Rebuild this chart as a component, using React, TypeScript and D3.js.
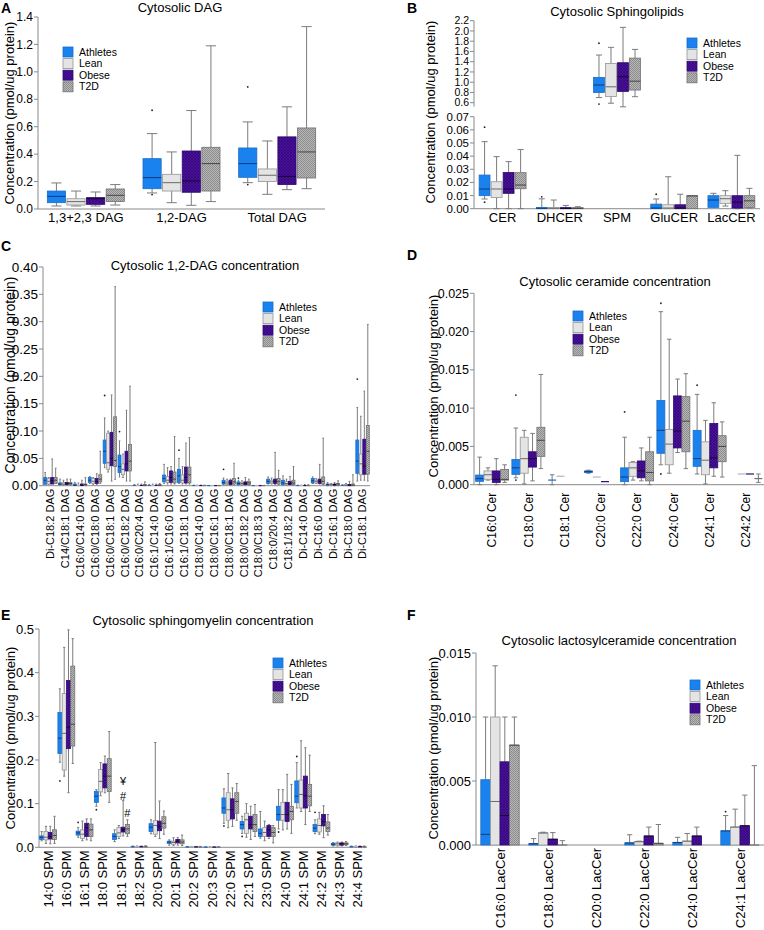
import React from "react";
import * as d3 from "d3";

// ---------- shared ----------
const GROUPS = ["Athletes", "Lean", "Obese", "T2D"];
const FILLS = ["#1a82ee", "#e4e4e4", "url(#pObese)", "url(#pT2D)"];
const STROKES = ["#1b6cc8", "#949494", "#2e0a6e", "#707070"];
const MEDIANS = ["#0b3c7a", "#6a6a6a", "#14082e", "#454545"];
const WHISK = "#7c7c7c";
const FONT = "'Liberation Sans', Arial, Helvetica, sans-serif";

// ---------- Panel A ----------
const A_cats = ["1,3+2,3 DAG", "1,2-DAG", "Total DAG"];
const A_ticks = [0, 0.2, 0.4, 0.6, 0.8, 1.0, 1.2, 1.4];
const A_athletes = [[0.022, 0.046, 0.092, 0.131, 0.19], [0.117, 0.148, 0.229, 0.367, 0.55], [0.192, 0.231, 0.331, 0.445, 0.635]];
const A_lean = [[0.022, 0.029, 0.054, 0.075, 0.131], [0.046, 0.131, 0.192, 0.253, 0.416], [0.107, 0.2, 0.246, 0.292, 0.496]];
const A_obese = [[0.022, 0.034, 0.075, 0.083, 0.124], [0.027, 0.122, 0.204, 0.423, 0.718], [0.141, 0.178, 0.238, 0.526, 0.745]];
const A_t2d = [[0.029, 0.054, 0.1, 0.146, 0.178], [0.054, 0.131, 0.331, 0.45, 1.19], [0.148, 0.226, 0.416, 0.591, 1.33]];
const A_outliers = [[1, 0, 0.72], [1, 0, 0.105], [2, 0, 0.89], [2, 0, 0.178]];

// ---------- Panel B ----------
const B_cats = ["CER", "DHCER", "SPM", "GluCER", "LacCER"];
const B_ticksUpper = [0.6, 0.8, 1.0, 1.2, 1.4, 1.6, 1.8, 2.0, 2.2];
const B_ticksLower = [0, 0.01, 0.02, 0.03, 0.04, 0.05, 0.06, 0.07];
const B_athletes = [[0.0074, 0.0099, 0.015, 0.0256, 0.051], [0, 0, 0.0003, 0.001, 0.0075], [0.7, 0.8, 0.945, 1.094, 1.53], [0, 0, 0.0005, 0.0035, 0.0074], [0.001, 0.001, 0.0066, 0.0099, 0.0117]];
const B_lean = [[0, 0.0086, 0.015, 0.0205, 0.0396], [0, 0, 0.0003, 0.001, 0.0066], [0.59, 0.72, 0.91, 1.367, 1.68], [0, 0, 0.0005, 0.003, 0.0243], [0.002, 0.004, 0.0076, 0.0099, 0.0137]];
const B_obese = [[0, 0.0117, 0.015, 0.0276, 0.0358], [0, 0, 0.0002, 0.0008, 0.0025], [0.52, 0.82, 1.107, 1.38, 2.07], [0, 0, 0.0005, 0.003, 0.011], [0, 0.0005, 0.005, 0.0099, 0.0406]];
const B_t2d = [[0, 0.0152, 0.018, 0.0274, 0.045], [0, 0, 0.0002, 0.0008, 0.0015], [0.717, 0.847, 1.02, 1.47, 1.64], [0, 0, 0.0097, 0.0099, 0.0099], [0.0005, 0.001, 0.006, 0.0099, 0.0155]];
const B_outliers = [[0, 0, 0.062], [0, 0, 0.005], [1, 0, 0.009], [2, 0, 1.76], [2, 0, 0.574], [3, 0, 0.011]];

// ---------- Panel C ----------
const C_cats = ["Di-C18:2 DAG", "C14/C18:1 DAG", "C16:0/C14:0 DAG", "C16:0/C18:0 DAG", "C16:0/C18:1 DAG", "C16:0/C18:2 DAG", "C16:0/C20:4 DAG", "C16:1/C14:0 DAG", "C16:1/C16:0 DAG", "C16:1/C18:1 DAG", "C18:0/C14:0 DAG", "C18:0/C16:1 DAG", "C18:0/C18:1 DAG", "C18:0/C18:2 DAG", "C18:0/C18:3 DAG", "C18:0/20:4 DAG", "C18:1/18:2 DAG", "Di-C14:0 DAG", "Di-C16:0 DAG", "Di-C16:1 DAG", "Di-C18:0 DAG", "Di-C18:1 DAG"];
const C_ticks = [0, 0.05, 0.1, 0.15, 0.2, 0.25, 0.3, 0.35, 0.4];
const C_athletes = [
  [0.0025, 0.0025, 0.01, 0.015, 0.024], [0.001, 0.002, 0.003, 0.005, 0.012], [0, 0.0005, 0.001, 0.003, 0.006], [0.004, 0.006, 0.01, 0.015, 0.017],
  [0.033, 0.041, 0.063, 0.0835, 0.124], [0.016, 0.024, 0.035, 0.056, 0.082], [0, 0, 0.0005, 0.001, 0.002], [0, 0, 0.0005, 0.001, 0.002],
  [0.004, 0.007, 0.013, 0.0195, 0.039], [0.004, 0.006, 0.018, 0.03, 0.05], [0, 0, 0.0003, 0.0008, 0.001], [0, 0, 0.0002, 0.0004, 0.0005],
  [0.002, 0.003, 0.006, 0.01, 0.014], [0.001, 0.002, 0.004, 0.007, 0.01], [0, 0, 0.0002, 0.0003, 0.0005], [0.003, 0.004, 0.008, 0.012, 0.016],
  [0.001, 0.002, 0.005, 0.01, 0.018], [0, 0, 0.0003, 0.0006, 0.001], [0.004, 0.005, 0.009, 0.013, 0.016], [0, 0.001, 0.002, 0.003, 0.006],
  [0, 0, 0.0005, 0.001, 0.002], [0.0085, 0.0226, 0.045, 0.0835, 0.143]];
const C_lean = [
  [0.002, 0.003, 0.008, 0.013, 0.015], [0.001, 0.002, 0.003, 0.006, 0.01], [0, 0.0005, 0.001, 0.002, 0.005], [0.002, 0.004, 0.008, 0.013, 0.015],
  [0.025, 0.03, 0.042, 0.096, 0.1], [0.015, 0.02, 0.03, 0.04, 0.058], [0, 0, 0.0005, 0.001, 0.003], [0, 0, 0.0005, 0.001, 0.003],
  [0.003, 0.006, 0.01, 0.017, 0.033], [0.003, 0.005, 0.01, 0.02, 0.035], [0, 0, 0.0003, 0.0008, 0.001], [0, 0, 0.0002, 0.0003, 0.0005],
  [0.002, 0.003, 0.005, 0.008, 0.012], [0.001, 0.002, 0.004, 0.006, 0.009], [0, 0, 0.0002, 0.0003, 0.0005], [0.003, 0.004, 0.007, 0.01, 0.014],
  [0.001, 0.002, 0.004, 0.008, 0.012], [0, 0, 0.0003, 0.0006, 0.001], [0.004, 0.005, 0.008, 0.01, 0.013], [0, 0.001, 0.002, 0.003, 0.004],
  [0, 0, 0.0008, 0.002, 0.004], [0.01, 0.02, 0.04, 0.058, 0.127]];
const C_obese = [
  [0.003, 0.003, 0.009, 0.015, 0.049], [0.001, 0.002, 0.004, 0.006, 0.012], [0, 0.0005, 0.001, 0.003, 0.01], [0.002, 0.004, 0.008, 0.013, 0.022],
  [0.0085, 0.0366, 0.05, 0.0976, 0.166], [0.0085, 0.027, 0.04, 0.063, 0.138], [0, 0, 0.0005, 0.001, 0.003], [0, 0, 0.0005, 0.001, 0.003],
  [0.003, 0.006, 0.015, 0.027, 0.035], [0.003, 0.005, 0.015, 0.034, 0.078], [0, 0, 0.0003, 0.0006, 0.001], [0, 0, 0.0002, 0.0003, 0.0005],
  [0.001, 0.002, 0.005, 0.01, 0.012], [0.001, 0.002, 0.004, 0.007, 0.015], [0, 0, 0.0002, 0.0003, 0.0005], [0.002, 0.004, 0.008, 0.012, 0.061],
  [0.001, 0.002, 0.004, 0.008, 0.017], [0, 0, 0.0003, 0.0006, 0.002], [0.003, 0.004, 0.008, 0.012, 0.039], [0, 0.001, 0.002, 0.003, 0.006],
  [0, 0, 0.001, 0.002, 0.008], [0.01, 0.021, 0.036, 0.085, 0.173]];
const C_t2d = [
  [0.004, 0.004, 0.01, 0.015, 0.032], [0.001, 0.002, 0.004, 0.006, 0.012], [0, 0.001, 0.002, 0.003, 0.015], [0.004, 0.007, 0.012, 0.02, 0.063],
  [0.0116, 0.035, 0.046, 0.126, 0.364], [0.0085, 0.027, 0.045, 0.0756, 0.182], [0, 0, 0.001, 0.002, 0.007], [0, 0, 0.001, 0.002, 0.004],
  [0.003, 0.005, 0.012, 0.025, 0.09], [0.003, 0.005, 0.02, 0.034, 0.088], [0, 0, 0.0003, 0.0006, 0.001], [0, 0, 0.0002, 0.0003, 0.0005],
  [0.002, 0.003, 0.007, 0.013, 0.041], [0.001, 0.002, 0.005, 0.008, 0.012], [0, 0, 0.0002, 0.0003, 0.0005], [0.002, 0.003, 0.008, 0.013, 0.028],
  [0.001, 0.002, 0.005, 0.01, 0.035], [0, 0, 0.0003, 0.0006, 0.002], [0.002, 0.003, 0.008, 0.016, 0.087], [0, 0.001, 0.003, 0.004, 0.009],
  [0, 0, 0.001, 0.003, 0.02], [0.0085, 0.021, 0.063, 0.11, 0.295]];
const C_outliers = [[4, 0, 0.165], [5, 0, 0.099], [9, 0, 0.065], [12, 0, 0.03], [13, 0, 0.014], [21, 0, 0.195]];

// ---------- Panel D ----------
const D_cats = ["C16:0 Cer", "C18:0 Cer", "C18:1 Cer", "C20:0 Cer", "C22:0 Cer", "C24:0 Cer", "C24:1 Cer", "C24:2 Cer"];
const D_ticks = [0, 0.005, 0.01, 0.015, 0.02, 0.025];
const D_athletes = [
  [0, 0.00044, 0.0008, 0.00126, 0.0036], [0.0009, 0.00135, 0.0022, 0.0033, 0.0074], [0, 0.0006, 0.0006, 0.0006, 0.0013], [0.0015, 0.0016, 0.0017, 0.0018, 0.0019],
  [0, 0.0004, 0.001, 0.0022, 0.0062], [0.0026, 0.0041, 0.0071, 0.011, 0.0226], [0.0014, 0.0024, 0.0034, 0.0071, 0.0118], null];
const D_lean = [
  [0.0006, 0.0007, 0.0013, 0.0018, 0.0022], [0.0001, 0.0015, 0.0034, 0.0062, 0.0071], [0.0011, 0.0011, 0.0011, 0.0011, 0.0011], [0.001, 0.001, 0.001, 0.001, 0.001],
  [0.0006, 0.0011, 0.0022, 0.0029, 0.003], [0.0015, 0.0026, 0.0053, 0.0072, 0.019], [0.0001, 0.0013, 0.0032, 0.0056, 0.0084], [0.0014, 0.0014, 0.0014, 0.0014, 0.0014]];
const D_obese = [
  [0, 0.0003, 0.0007, 0.0018, 0.0034], [0.0005, 0.0023, 0.0034, 0.0043, 0.0067], null, [0.0004, 0.0004, 0.0004, 0.0004, 0.0004],
  [0.0005, 0.0009, 0.0018, 0.0031, 0.0048], [0.0042, 0.0048, 0.007, 0.0116, 0.0138], [0.0011, 0.0022, 0.0035, 0.008, 0.0107], [0.0014, 0.0014, 0.0014, 0.0014, 0.0014]];
const D_t2d = [
  [0.0003, 0.0006, 0.0007, 0.002, 0.0026], [0.0021, 0.0037, 0.0058, 0.0075, 0.0144], null, null,
  [0, 0.0005, 0.0016, 0.0043, 0.0062], [0.0021, 0.0043, 0.0083, 0.0115, 0.0145], [0.001, 0.003, 0.005, 0.0064, 0.0082], [0.0003, 0.0008, 0.0008, 0.0008, 0.0014]];
const D_outliers = [[1, 0, 0.0117], [1, 0, 0.0006], [4, 0, 0.0095], [5, 0, 0.0237], [5, 0, 0.0014], [6, 0, 0.013]];

// ---------- Panel E ----------
const E_cats = ["14:0 SPM", "16:0 SPM", "16:1 SPM", "18:0 SPM", "18:1 SPM", "18:2 SPM", "20:0 SPM", "20:1 SPM", "20:2 SPM", "20:3 SPM", "22:0 SPM", "22:1 SPM", "23:0 SPM", "24:0 SPM", "24:1 SPM", "24:2 SPM", "24:3 SPM", "24:4 SPM"];
const E_ticks = [0, 0.1, 0.2, 0.3, 0.4, 0.5];
const E_athletes = [
  [0.015, 0.018, 0.023, 0.026, 0.036], [0.195, 0.215, 0.25, 0.309, 0.363], [0.023, 0.028, 0.033, 0.037, 0.045], [0.094, 0.103, 0.117, 0.128, 0.132],
  [0.013, 0.018, 0.025, 0.031, 0.04], [0.0005, 0.001, 0.0015, 0.002, 0.003], [0.031, 0.036, 0.046, 0.054, 0.063], [0.005, 0.009, 0.012, 0.014, 0.017],
  [0, 0.0005, 0.001, 0.0015, 0.002], [0, 0.0002, 0.0004, 0.0006, 0.001], [0.055, 0.078, 0.09, 0.113, 0.134], [0.032, 0.042, 0.052, 0.059, 0.071],
  [0.021, 0.025, 0.032, 0.042, 0.082], [0.042, 0.062, 0.075, 0.094, 0.132], [0.09, 0.102, 0.117, 0.152, 0.194], [0.031, 0.036, 0.044, 0.052, 0.063],
  [0.003, 0.005, 0.007, 0.009, 0.011], [0, 0.001, 0.0015, 0.002, 0.003]];
const E_lean = [
  [0.009, 0.017, 0.023, 0.036, 0.048], [0.163, 0.177, 0.261, 0.352, 0.458], [0.015, 0.02, 0.03, 0.04, 0.06], [0.118, 0.127, 0.151, 0.178, 0.194],
  [0.02, 0.025, 0.033, 0.045, 0.05], [0.0005, 0.001, 0.0015, 0.002, 0.003], [0.025, 0.03, 0.05, 0.061, 0.24], [0.004, 0.007, 0.011, 0.014, 0.022],
  [0, 0.0005, 0.001, 0.0015, 0.002], [0, 0.0002, 0.0004, 0.0006, 0.001], [0.045, 0.062, 0.086, 0.125, 0.169], [0.023, 0.032, 0.063, 0.078, 0.1],
  [0.015, 0.025, 0.034, 0.045, 0.06], [0.04, 0.062, 0.075, 0.103, 0.132], [0.082, 0.09, 0.121, 0.154, 0.244], [0.03, 0.035, 0.05, 0.065, 0.08],
  [0.003, 0.005, 0.008, 0.01, 0.012], [0, 0.001, 0.0015, 0.002, 0.003]];
const E_obese = [
  [0.008, 0.019, 0.025, 0.034, 0.048], [0.125, 0.226, 0.275, 0.382, 0.498], [0.017, 0.025, 0.045, 0.055, 0.065], [0.125, 0.136, 0.163, 0.191, 0.209],
  [0.026, 0.035, 0.04, 0.046, 0.107], [0.0005, 0.001, 0.0015, 0.002, 0.003], [0.02, 0.038, 0.048, 0.06, 0.106], [0.005, 0.01, 0.014, 0.018, 0.022],
  [0, 0.0005, 0.001, 0.0015, 0.002], [0, 0.0002, 0.0004, 0.0006, 0.001], [0.048, 0.065, 0.086, 0.111, 0.136], [0.018, 0.042, 0.052, 0.071, 0.094],
  [0.02, 0.025, 0.04, 0.05, 0.052], [0.042, 0.059, 0.075, 0.103, 0.167], [0.052, 0.09, 0.118, 0.163, 0.228], [0.022, 0.049, 0.059, 0.075, 0.095],
  [0.003, 0.005, 0.008, 0.01, 0.012], [0, 0.001, 0.0015, 0.002, 0.003]];
const E_t2d = [
  [0.009, 0.018, 0.027, 0.04, 0.071], [0.192, 0.232, 0.282, 0.415, 0.478], [0.015, 0.025, 0.04, 0.053, 0.065], [0.103, 0.128, 0.163, 0.203, 0.265],
  [0.025, 0.031, 0.042, 0.052, 0.063], [0.0005, 0.001, 0.0015, 0.002, 0.004], [0.03, 0.044, 0.055, 0.07, 0.083], [0.004, 0.008, 0.012, 0.017, 0.028],
  [0, 0.0005, 0.001, 0.0015, 0.002], [0, 0.0002, 0.0004, 0.0006, 0.001], [0.062, 0.078, 0.105, 0.125, 0.146], [0.025, 0.036, 0.052, 0.075, 0.098],
  [0.01, 0.025, 0.034, 0.045, 0.05], [0.032, 0.063, 0.082, 0.094, 0.144], [0.082, 0.095, 0.117, 0.144, 0.211], [0.028, 0.036, 0.044, 0.058, 0.075],
  [0.004, 0.006, 0.008, 0.01, 0.013], [0, 0.001, 0.0015, 0.002, 0.003]];
const E_outliers = [[1, 0, 0.152], [2, 0, 0.057], [3, 0, 0.086], [10, 0, 0.049], [11, 0, 0.025], [13, 0, 0.035], [14, 0, 0.208], [15, 0, 0.08]];
const E_annotations: [number, number, number, string][] = [[4, 2, 0.142, "¥"], [4, 2, 0.109, "#"], [4, 3, 0.069, "#"]];

// ---------- Panel F ----------
const F_cats = ["C16:0 LacCer", "C18:0 LacCer", "C20:0 LacCer", "C22:0 LacCer", "C24:0 LacCer", "C24:1 LacCer"];
const F_ticks = [0, 0.005, 0.01, 0.015];
const F_athletes = [[0, 0, 0.00083, 0.0051, 0.01], [0, 0, 0.0001, 0.0001, 0.0005], null, [0, 0, 0.00016, 0.00016, 0.0008], [0, 0, 0.0002, 0.0002, 0.0006], [0, 0, 0.0011, 0.0011, 0.0023]];
const F_lean = [[0, 0, 0.0034, 0.01, 0.014], [0, 0, 0.00094, 0.00094, 0.001], null, [0, 0, 0.00026, 0.00026, 0.0003], [0, 0, 0.0003, 0.0003, 0.0009], [0, 0, 0.0014, 0.0014, 0.0028]];
const F_obese = [[0, 0, 0.0023, 0.0065, 0.01], [0, 0, 0.00045, 0.00045, 0.00097], null, [0, 0, 0.0007, 0.0007, 0.0014], [0, 0, 0.0007, 0.0007, 0.0014], [0, 0, 0.0015, 0.0015, 0.0039]];
const F_t2d = [[0, 0, 0.0078, 0.0078, 0.01], [0, 0, 0, 0, 0.00034], null, [0, 0, 0.00013, 0.00013, 0.0016], null, [0, 0, 0, 0, 0.0062]];
const F_outliers = [[5, 0, 0.0026]];

type AxisSeg = { scale: d3.ScaleLinear<number, number>; ticks: number[]; fmt: string; size: number };

type PanelProps = {
  cats: string[];
  series: (number[] | null)[][];
  outliers: number[][];
  annotations?: [number, number, number, string][];
  xRange: [number, number];
  y: (v: number) => number;
  axes: AxisSeg[];
  bwFrac: number;
  spFrac: number;
  rotate: boolean;
  labelSize: number;
  labelGap: number;
  title: string;
  titleX: number;
  titleY: number;
  letter: string;
  letterX: number;
  letterY: number;
  yLabelX: number;
  yLabelY: number;
  yLabelSize: number;
  legendX: number;
  legendY: number;
};

function Panel(p: PanelProps) {
  const x = d3.scaleBand().domain(p.cats).range(p.xRange);
  const step = x.step();
  const bw = step * p.bwFrac;
  const sp = step * p.spFrac;
  const axisX = p.xRange[0];
  const y0 = p.y(0);
  const cx = (ci: number, gi: number) => (x(p.cats[ci]) as number) + step / 2 + (gi - 1.5) * sp;
  const cap = bw * 0.28;

  return (
    <g fontFamily={FONT}>
      <text x={p.letterX} y={p.letterY} fontSize={14} fontWeight="bold">{p.letter}</text>
      <text x={p.titleX} y={p.titleY} fontSize={13} textAnchor="middle">{p.title}</text>
      <text transform={`translate(${p.yLabelX},${p.yLabelY}) rotate(-90)`} fontSize={p.yLabelSize} textAnchor="middle" dy="0.35em">
        Concentration (pmol/ug protein)
      </text>
      {p.axes.map((a, ai) => {
        const r = a.scale.range();
        const f = d3.format(a.fmt);
        return (
          <g key={ai}>
            <line x1={axisX} x2={axisX} y1={r[0] + (ai === 0 && p.axes.length > 1 ? 4 : 0)} y2={r[1]} stroke="#8a8a8a" strokeWidth={1} />
            {a.ticks.map((t) => (
              <g key={t}>
                <line x1={axisX - 4} x2={axisX} y1={a.scale(t)} y2={a.scale(t)} stroke="#8a8a8a" />
                <text x={axisX - 5} y={a.scale(t)} dy="0.35em" fontSize={a.size} textAnchor="end">{f(t)}</text>
              </g>
            ))}
          </g>
        );
      })}
      <line x1={axisX} x2={p.xRange[1]} y1={y0} y2={y0} stroke="#8a8a8a" strokeWidth={1} />
      {p.cats.map((c) => {
        const xc = (x(c) as number) + step / 2;
        return p.rotate ? (
          <text key={c} transform={`translate(${xc},${y0 + p.labelGap}) rotate(-90)`} fontSize={p.labelSize} textAnchor="end" dy="0.35em">{c}</text>
        ) : (
          <text key={c} x={xc} y={y0 + p.labelGap} fontSize={p.labelSize} textAnchor="middle" dy="0.8em">{c}</text>
        );
      })}
      {p.cats.map((c, ci) =>
        p.series.map((s, gi) => {
          const b = s[ci];
          if (!b) return null;
          const [mn, q1, md, q3, mx] = b;
          const xc = cx(ci, gi);
          const yq1 = p.y(q1), yq3 = p.y(q3);
          const h = yq1 - yq3;
          return (
            <g key={`${ci}-${gi}`}>
              {mx > q3 && <line x1={xc} x2={xc} y1={p.y(mx)} y2={yq3} stroke={WHISK} strokeWidth={1} />}
              {mx > q3 && <line x1={xc - cap} x2={xc + cap} y1={p.y(mx)} y2={p.y(mx)} stroke={WHISK} strokeWidth={1} />}
              {mn < q1 && <line x1={xc} x2={xc} y1={yq1} y2={p.y(mn)} stroke={WHISK} strokeWidth={1} />}
              {mn < q1 && <line x1={xc - cap} x2={xc + cap} y1={p.y(mn)} y2={p.y(mn)} stroke={WHISK} strokeWidth={1} />}
              {h >= 1 ? (
                <rect x={xc - bw / 2} y={yq3} width={bw} height={h} fill={FILLS[gi]} stroke={STROKES[gi]} strokeWidth={0.8} />
              ) : (
                <line x1={xc - bw / 2} x2={xc + bw / 2} y1={p.y(md)} y2={p.y(md)} stroke={gi === 1 ? "#b5b5b5" : STROKES[gi]} strokeWidth={1.2} />
              )}
              {h >= 1 && <line x1={xc - bw / 2} x2={xc + bw / 2} y1={p.y(md)} y2={p.y(md)} stroke={MEDIANS[gi]} strokeWidth={1} />}
            </g>
          );
        })
      )}
      {p.outliers.map((o, i) => (
        <circle key={i} cx={cx(o[0], o[1])} cy={p.y(o[2])} r={0.9} fill="#222" />
      ))}
      {(p.annotations || []).map((a, i) => (
        <text key={i} x={cx(a[0], a[1])} y={p.y(a[2])} fontSize={11} textAnchor="middle">{a[3]}</text>
      ))}
      {GROUPS.map((g, gi) => {
        const ly = p.legendY + gi * 11.6;
        return (
          <g key={g}>
            <rect x={p.legendX} y={ly - 5} width={10} height={10} fill={FILLS[gi]} stroke={STROKES[gi]} strokeWidth={0.8} />
            <text x={p.legendX + 16} y={ly} dy="0.35em" fontSize={10.5}>{g}</text>
          </g>
        );
      })}
    </g>
  );
}

export default function App() {
  const yA = d3.scaleLinear().domain([0, 1.4]).range([209, 17]);
  const yBU = d3.scaleLinear().domain([0.6, 2.2]).range([102.7, 20.7]);
  const yBL = d3.scaleLinear().domain([0, 0.07]).range([208.7, 116.7]);
  const yB = (v: number) => (v >= 0.3 ? yBU(v) : yBL(v));
  const yC = d3.scaleLinear().domain([0, 0.4]).range([485.7, 267]);
  const yD = d3.scaleLinear().domain([0, 0.025]).range([484.7, 293.3]);
  const yE = d3.scaleLinear().domain([0, 0.5]).range([847.3, 629]);
  const yF = d3.scaleLinear().domain([0, 0.015]).range([845, 653]);

  return (
    <svg width={764} height={930} style={{ position: "absolute", left: 0, top: 0, background: "#fff" }}>
      <defs>
        <pattern id="pObese" width="3" height="3" patternUnits="userSpaceOnUse">
          <rect width="3" height="3" fill="#4c10a2" />
          <path d="M0,0 L3,3 M3,0 L0,3" stroke="#2c0766" strokeWidth="0.6" />
        </pattern>
        <pattern id="pT2D" width="2" height="2" patternUnits="userSpaceOnUse">
          <rect width="2" height="2" fill="#b8b8b8" />
          <rect width="1" height="1" fill="#8c8c8c" />
          <rect x="1" y="1" width="1" height="1" fill="#8c8c8c" />
        </pattern>
      </defs>
      <rect width={764} height={930} fill="#fff" />
      <Panel cats={A_cats} series={[A_athletes, A_lean, A_obese, A_t2d]} outliers={A_outliers}
        xRange={[38, 325]} y={yA} axes={[{ scale: yA, ticks: A_ticks, fmt: ".1f", size: 12 }]}
        bwFrac={0.19} spFrac={0.205} rotate={false} labelSize={13} labelGap={3}
        title="Cytosolic DAG" titleX={180} titleY={12} letter="A" letterX={1} letterY={13}
        yLabelX={9} yLabelY={113} yLabelSize={13} legendX={63} legendY={52} />
      <Panel cats={B_cats} series={[B_athletes, B_lean, B_obese, B_t2d]} outliers={B_outliers}
        xRange={[474, 760]} y={yB}
        axes={[{ scale: yBU, ticks: B_ticksUpper, fmt: ".1f", size: 10.5 }, { scale: yBL, ticks: B_ticksLower, fmt: ".2f", size: 11.5 }]}
        bwFrac={0.19} spFrac={0.21} rotate={false} labelSize={13} labelGap={3}
        title="Cytosolic Sphingolipids" titleX={617} titleY={16} letter="B" letterX={407} letterY={13}
        yLabelX={430} yLabelY={112} yLabelSize={13} legendX={687} legendY={43} />
      <Panel cats={C_cats} series={[C_athletes, C_lean, C_obese, C_t2d]} outliers={C_outliers}
        xRange={[43, 370]} y={yC} axes={[{ scale: yC, ticks: C_ticks, fmt: ".2f", size: 13.5 }]}
        bwFrac={0.2} spFrac={0.235} rotate={true} labelSize={11} labelGap={3}
        title="Cytosolic 1,2-DAG concentration" titleX={205} titleY={270} letter="C" letterX={1} letterY={251}
        yLabelX={10} yLabelY={375} yLabelSize={14} legendX={263} legendY={307} />
      <Panel cats={D_cats} series={[D_athletes, D_lean, D_obese, D_t2d]} outliers={D_outliers}
        xRange={[474, 764]} y={yD} axes={[{ scale: yD, ticks: D_ticks, fmt: ".3f", size: 12.5 }]}
        bwFrac={0.22} spFrac={0.23} rotate={true} labelSize={12} labelGap={8}
        title="Cytosolic ceramide concentration" titleX={615} titleY={286} letter="D" letterX={407} letterY={260}
        yLabelX={433} yLabelY={386} yLabelSize={13} legendX={573} legendY={316} />
      <Panel cats={E_cats} series={[E_athletes, E_lean, E_obese, E_t2d]} outliers={E_outliers} annotations={E_annotations}
        xRange={[39, 367]} y={yE} axes={[{ scale: yE, ticks: E_ticks, fmt: ".1f", size: 13 }]}
        bwFrac={0.22} spFrac={0.235} rotate={true} labelSize={13} labelGap={3}
        title="Cytosolic sphingomyelin concentration" titleX={203} titleY={625} letter="E" letterX={1} letterY={620}
        yLabelX={10} yLabelY={738} yLabelSize={13} legendX={273} legendY={663} />
      <Panel cats={F_cats} series={[F_athletes, F_lean, F_obese, F_t2d]} outliers={F_outliers}
        xRange={[476, 764]} y={yF} axes={[{ scale: yF, ticks: F_ticks, fmt: ".3f", size: 13 }]}
        bwFrac={0.2} spFrac={0.2} rotate={true} labelSize={13} labelGap={3}
        title="Cytosolic lactosylceramide concentration" titleX={619} titleY={645} letter="F" letterX={407} letterY={620}
        yLabelX={433} yLabelY={748} yLabelSize={13} legendX={690} legendY={685} />
    </svg>
  );
}
